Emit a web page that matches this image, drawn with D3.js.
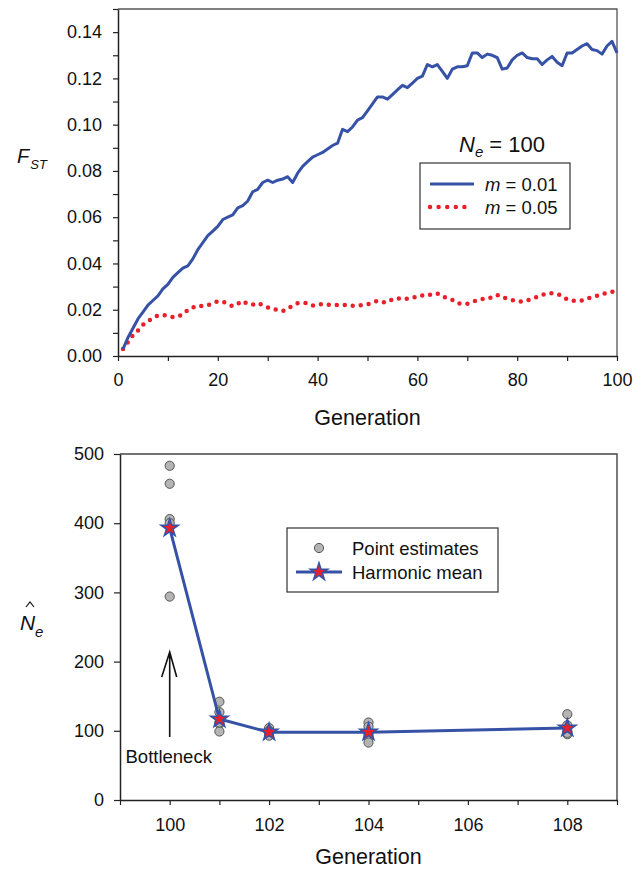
<!DOCTYPE html>
<html>
<head>
<meta charset="utf-8">
<script src="https://cdn.jsdelivr.net/npm/d3@7"></script>
<style>
  body { margin: 0; background: #fff; }
  svg { font-family: "Liberation Sans", Arial, sans-serif; }
</style>
</head>
<body>
<svg width="642" height="869"></svg>
<script>
// ---- top panel: FST over generations ----
var fstGenerations = d3.range(1, 101);
var fstLow = [0.003,0.008,0.012,0.016,0.019,0.022,0.024,0.026,0.029,0.031,
  0.034,0.036,0.038,0.039,0.042,0.046,0.049,0.052,0.054,0.056,
  0.059,0.060,0.061,0.064,0.065,0.067,0.071,0.072,0.075,0.076,
  0.075,0.076,0.0765,0.0775,0.075,0.079,0.082,0.084,0.086,0.087,
  0.088,0.0895,0.091,0.092,0.098,0.097,0.099,0.102,0.103,0.106,
  0.109,0.112,0.112,0.111,0.113,0.115,0.117,0.116,0.118,0.120,
  0.121,0.126,0.125,0.126,0.123,0.120,0.124,0.125,0.125,0.1255,
  0.131,0.131,0.129,0.1305,0.130,0.129,0.124,0.1245,0.128,0.130,
  0.131,0.129,0.1285,0.1285,0.126,0.128,0.1295,0.127,0.1255,0.131,
  0.131,0.1325,0.134,0.135,0.1325,0.132,0.1305,0.134,0.136,0.131];
var fstHigh = [0.003,0.006,0.009,0.011,0.0135,0.015,0.0165,0.0175,0.0177,0.0175,
  0.0168,0.017,0.018,0.0199,0.021,0.0218,0.0216,0.022,0.0228,0.0237,
  0.0235,0.0225,0.0215,0.0225,0.0238,0.0225,0.0222,0.0229,0.022,0.021,
  0.0205,0.0198,0.0194,0.0205,0.0218,0.0228,0.023,0.0228,0.0218,0.022,
  0.0225,0.0222,0.022,0.022,0.022,0.022,0.0217,0.0218,0.022,0.0223,
  0.0232,0.0238,0.0232,0.0232,0.0245,0.025,0.0246,0.0248,0.025,0.026,
  0.0262,0.026,0.0268,0.027,0.0257,0.025,0.0242,0.0228,0.0225,0.0226,
  0.0232,0.0242,0.0246,0.0246,0.0255,0.0264,0.0254,0.0248,0.0242,0.0237,
  0.0235,0.024,0.0248,0.0255,0.0264,0.027,0.0272,0.0268,0.026,0.0245,
  0.024,0.0238,0.024,0.0247,0.0255,0.026,0.0266,0.0274,0.0278,0.028];
var topXTicks = d3.range(0, 101, 10);
var topYTicks = d3.range(0, 0.1501, 0.01);

// ---- bottom panel: Ne estimates after bottleneck ----
var neGenerations = [100, 101, 102, 104, 108];
var pointEstimates = [
  [483, 457, 406, 294, 400],
  [142, 127, 110, 99, 112],
  [104, 100, 97, 93, 99],
  [112, 106, 95, 90, 83],
  [124, 108, 100, 95, 97]
];
var harmonicMean = [393, 117, 98, 98, 104];
var bottomXTicks = d3.range(99, 110, 1);
var bottomYTicks = [0, 100, 200, 300, 400, 500];

var blue = "#3652a6", red = "#e8202a";
var svg = d3.select("svg");

// ================= top panel =================
var x1 = d3.scaleLinear().domain([0, 100]).range([118, 617]);
var y1 = d3.scaleLinear().domain([0, 0.15]).range([356, 9]);

var g1 = svg.append("g");

// frame top/right
g1.append("path")
  .attr("d", "M" + x1(0) + "," + y1(0.15) + "H" + x1(100) + "V" + y1(0))
  .attr("fill", "none").attr("stroke", "#555").attr("stroke-width", 1.3);

var ax1 = g1.append("g").attr("transform", "translate(0," + y1(0) + ")")
  .call(d3.axisBottom(x1).tickValues(topXTicks)
    .tickFormat(function(d){ return d % 20 === 0 ? d : ""; })
    .tickSize(5).tickPadding(12).tickSizeOuter(0));
var ay1 = g1.append("g").attr("transform", "translate(" + x1(0) + ",0)")
  .call(d3.axisLeft(y1).tickValues(topYTicks)
    .tickFormat(function(d, i){ return i % 2 === 0 ? d3.format(".2f")(d) : ""; })
    .tickSize(5).tickPadding(11).tickSizeOuter(0));
[ax1, ay1].forEach(function(a){
  a.selectAll("text").attr("font-size", 18).attr("fill", "#111").attr("font-family", "Liberation Sans, Arial, sans-serif");
  a.selectAll("line").attr("stroke", "#222").attr("stroke-width", 1.2);
  a.select(".domain").attr("stroke", "#222").attr("stroke-width", 1.5);
});

var line1 = d3.line()
  .x(function(d){ return x1(d[0]); })
  .y(function(d){ return y1(d[1]); });

g1.append("path")
  .datum(fstGenerations.map(function(g, i){ return [g, fstHigh[i]]; }))
  .attr("d", line1).attr("fill", "none")
  .attr("stroke", red).attr("stroke-width", 4.5)
  .attr("stroke-linecap", "round").attr("stroke-dasharray", "0 8");

g1.append("path")
  .datum(fstGenerations.map(function(g, i){ return [g, fstLow[i]]; }))
  .attr("d", line1).attr("fill", "none")
  .attr("stroke", blue).attr("stroke-width", 3).attr("stroke-linejoin", "round");

// y label F_ST
var fl = g1.append("text").attr("x", 17).attr("y", 163).attr("fill", "#111");
fl.append("tspan").attr("font-size", 20).attr("font-style", "italic").text("F");
fl.append("tspan").attr("font-size", 13).attr("font-style", "italic").attr("dy", 6).attr("dx", 1).text("ST");

g1.append("text").attr("x", (x1(0) + x1(100)) / 2).attr("y", 425)
  .attr("text-anchor", "middle").attr("font-size", 21.5).attr("fill", "#111").text("Generation");

// legend
var nt = g1.append("text").attr("x", 459).attr("y", 152).attr("fill", "#111");
nt.append("tspan").attr("font-size", 22).attr("font-style", "italic").text("N");
nt.append("tspan").attr("font-size", 15).attr("font-style", "italic").attr("dy", 5).text("e");
nt.append("tspan").attr("font-size", 22).attr("dy", -5).text(" = 100");

g1.append("rect").attr("x", 420).attr("y", 163).attr("width", 150).attr("height", 66)
  .attr("fill", "#fff").attr("stroke", "#333").attr("stroke-width", 1.2);
g1.append("line").attr("x1", 430).attr("x2", 474).attr("y1", 184).attr("y2", 184)
  .attr("stroke", blue).attr("stroke-width", 3);
g1.append("line").attr("x1", 430).attr("x2", 473).attr("y1", 207).attr("y2", 207)
  .attr("stroke", red).attr("stroke-width", 4.5)
  .attr("stroke-linecap", "round").attr("stroke-dasharray", "0 8.6");
[["0.01", 191], ["0.05", 214]].forEach(function(r){
  var t = g1.append("text").attr("x", 485).attr("y", r[1]).attr("font-size", 18.5).attr("fill", "#111");
  t.append("tspan").attr("font-style", "italic").text("m");
  t.append("tspan").text(" = " + r[0]);
});

// ================= bottom panel =================
var x2 = d3.scaleLinear().domain([99, 109]).range([120, 617]);
var y2 = d3.scaleLinear().domain([0, 500]).range([800, 454]);

var g2 = svg.append("g");
g2.append("path")
  .attr("d", "M" + x2(99) + "," + y2(500) + "H" + x2(109) + "V" + y2(0))
  .attr("fill", "none").attr("stroke", "#444").attr("stroke-width", 1.4);

var ax2 = g2.append("g").attr("transform", "translate(0," + y2(0) + ")")
  .call(d3.axisBottom(x2).tickValues(bottomXTicks)
    .tickFormat(function(d){ return d % 2 === 0 ? d : ""; })
    .tickSize(5).tickPadding(13).tickSizeOuter(0));
var ay2 = g2.append("g").attr("transform", "translate(" + x2(99) + ",0)")
  .call(d3.axisLeft(y2).tickValues(bottomYTicks)
    .tickSize(6).tickPadding(10).tickSizeOuter(0));
[ax2, ay2].forEach(function(a){
  a.selectAll("text").attr("font-size", 18).attr("fill", "#111").attr("font-family", "Liberation Sans, Arial, sans-serif");
  a.selectAll("line").attr("stroke", "#222").attr("stroke-width", 1.2);
  a.select(".domain").attr("stroke", "#222").attr("stroke-width", 1.5);
});

// point estimates
var pts = [];
neGenerations.forEach(function(g, i){
  pointEstimates[i].forEach(function(v){ pts.push([g, v]); });
});
g2.selectAll("circle.pt").data(pts).enter().append("circle")
  .attr("class", "pt")
  .attr("cx", function(d){ return x2(d[0]); })
  .attr("cy", function(d){ return y2(d[1]); })
  .attr("r", 4.6)
  .attr("fill", "#b4b4b4").attr("stroke", "#555").attr("stroke-width", 1);

var hm = neGenerations.map(function(g, i){ return [g, harmonicMean[i]]; });
g2.append("path").datum(hm)
  .attr("d", d3.line().x(function(d){ return x2(d[0]); }).y(function(d){ return y2(d[1]); }))
  .attr("fill", "none").attr("stroke", blue).attr("stroke-width", 3);

var star = d3.symbol().type(d3.symbolStar).size(95);
g2.selectAll("path.star").data(hm).enter().append("path")
  .attr("class", "star")
  .attr("transform", function(d){ return "translate(" + x2(d[0]) + "," + y2(d[1]) + ")"; })
  .attr("d", star)
  .attr("fill", red).attr("stroke", blue).attr("stroke-width", 1.5);

// bottleneck arrow
var ax = x2(100);
g2.append("path")
  .attr("d", "M" + ax + ",737V652M" + (ax - 8) + ",677L" + ax + ",652L" + (ax + 7) + ",677")
  .attr("fill", "none").attr("stroke", "#111").attr("stroke-width", 1.6);
g2.append("text").attr("x", ax - 1).attr("y", 763).attr("text-anchor", "middle")
  .attr("font-size", 18.5).attr("fill", "#111").text("Bottleneck");

// y label N-hat_e (hat drawn as a small chevron)
var nl = g2.append("g").attr("fill", "#111");
nl.append("text").attr("x", 20).attr("y", 630).attr("font-size", 21).attr("font-style", "italic").text("N");
nl.append("text").attr("x", 35).attr("y", 637).attr("font-size", 15).attr("font-style", "italic").text("e");
nl.append("path").attr("d", "M26,607L30,602L34,607")
  .attr("fill", "none").attr("stroke", "#111").attr("stroke-width", 1.2);

g2.append("text").attr("x", (x2(99) + x2(109)) / 2).attr("y", 864)
  .attr("text-anchor", "middle").attr("font-size", 21.5).attr("fill", "#111").text("Generation");

// legend
g2.append("rect").attr("x", 287).attr("y", 528).attr("width", 211).attr("height", 64)
  .attr("fill", "#fff").attr("stroke", "#333").attr("stroke-width", 1.2);
g2.append("circle").attr("cx", 319).attr("cy", 548).attr("r", 4.6)
  .attr("fill", "#b4b4b4").attr("stroke", "#555").attr("stroke-width", 1);
g2.append("line").attr("x1", 296).attr("x2", 342).attr("y1", 572).attr("y2", 572)
  .attr("stroke", blue).attr("stroke-width", 3);
g2.append("path").attr("transform", "translate(319,572)").attr("d", star)
  .attr("fill", red).attr("stroke", blue).attr("stroke-width", 1.5);
g2.append("text").attr("x", 352).attr("y", 555).attr("font-size", 18.5).attr("fill", "#111").text("Point estimates");
g2.append("text").attr("x", 352).attr("y", 579).attr("font-size", 18.5).attr("fill", "#111").text("Harmonic mean");
</script>
</body>
</html>
